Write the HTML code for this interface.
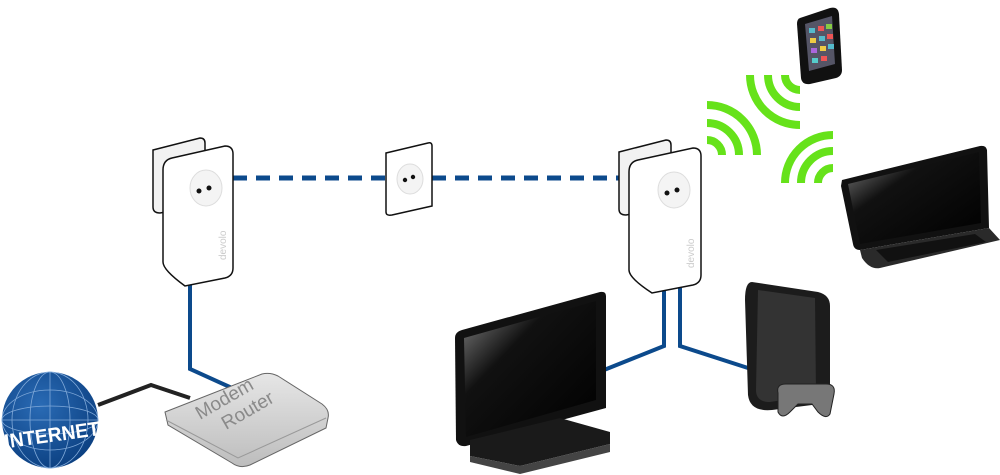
<!DOCTYPE html>
<html><head><meta charset="utf-8"><style>
html,body{margin:0;padding:0;background:#fff;width:1000px;height:475px;overflow:hidden}
</style></head><body>
<svg width="1000" height="475" viewBox="0 0 1000 475" xmlns="http://www.w3.org/2000/svg" font-family="Liberation Sans, sans-serif">
<defs>
<linearGradient id="gl" x1="0" y1="0" x2="1" y2="1"><stop offset="0" stop-color="#888"/><stop offset=".35" stop-color="#111"/><stop offset="1" stop-color="#000"/></linearGradient>
<linearGradient id="rt" x1="0" y1="0" x2="0" y2="1"><stop offset="0" stop-color="#e6e6e6"/><stop offset="1" stop-color="#bdbdbd"/></linearGradient>
<radialGradient id="gb" cx=".4" cy=".35" r=".7"><stop offset="0" stop-color="#2a6bb5"/><stop offset="1" stop-color="#0b3f80"/></radialGradient>
</defs>
<line x1="233" y1="178" x2="392" y2="178" stroke="#0c4a8c" stroke-width="5" stroke-dasharray="14,9"/>
<line x1="432" y1="178" x2="622" y2="178" stroke="#0c4a8c" stroke-width="5" stroke-dasharray="14,9"/>
<polyline points="190,280 190,369 232,388" fill="none" stroke="#0c4a8c" stroke-width="4"/>
<polyline points="664,288 664,346 604,370" fill="none" stroke="#0c4a8c" stroke-width="4"/>
<polyline points="680,288 680,346 748,368" fill="none" stroke="#0c4a8c" stroke-width="4"/>
<polyline points="98,405 151,385 190,398" fill="none" stroke="#222" stroke-width="4"/>
<path d="M153,150 L200,138 Q205,138 205,143 L205,205 L160,213 Q153,213 153,207Z" fill="#f2f2f2" stroke="#111" stroke-width="1.5"/>
<path d="M163,170 Q163,160 172,158 L225,146 Q233,146 233,154 L233,268 Q233,276 225,278 L185,286 Q163,270 163,262Z" fill="#fff" stroke="#111" stroke-width="1.5"/>
<ellipse cx="206" cy="188" rx="16" ry="18" fill="#f4f4f4" stroke="#ddd"/>
<circle cx="199" cy="191" r="2.5" fill="#111"/><circle cx="209" cy="188" r="2.5" fill="#111"/>
<text x="0" y="0" transform="translate(226,260) rotate(-90)" font-size="10" fill="#ccc">devolo</text>
<path d="M386,153 L428,143 Q432,142 432,146 L432,206 L392,215 Q386,216 386,212Z" fill="#fff" stroke="#111" stroke-width="1.5"/>
<ellipse cx="410" cy="179" rx="13" ry="15" fill="#f4f4f4" stroke="#ddd"/>
<circle cx="405" cy="180" r="2.2" fill="#111"/><circle cx="413" cy="177" r="2.2" fill="#111"/>
<path d="M619,152 L666,140 Q671,140 671,145 L671,207 L626,215 Q619,215 619,209Z" fill="#f2f2f2" stroke="#111" stroke-width="1.5"/>
<path d="M629,172 Q629,162 638,160 L693,148 Q701,148 701,156 L701,275 Q701,283 693,285 L652,293 Q629,278 629,270Z" fill="#fff" stroke="#111" stroke-width="1.5"/>
<ellipse cx="674" cy="190" rx="16" ry="18" fill="#f4f4f4" stroke="#ddd"/>
<circle cx="667" cy="193" r="2.5" fill="#111"/><circle cx="677" cy="190" r="2.5" fill="#111"/>
<text x="0" y="0" transform="translate(694,268) rotate(-90)" font-size="10" fill="#ccc">devolo</text>
<circle cx="50" cy="420" r="48" fill="url(#gb)"/>
<g fill="none" stroke="#7fa8d8" stroke-width=".8">
<ellipse cx="50" cy="420" rx="20" ry="48"/><ellipse cx="50" cy="420" rx="38" ry="48"/><line x1="50" y1="372" x2="50" y2="468"/>
<ellipse cx="50" cy="420" rx="48" ry="14"/><ellipse cx="50" cy="420" rx="48" ry="30"/><line x1="2" y1="420" x2="98" y2="420"/>
</g>
<text x="52" y="442" text-anchor="middle" font-size="20" font-weight="bold" fill="#fff" transform="rotate(-8 50 435)" textLength="96" lengthAdjust="spacingAndGlyphs">INTERNET</text>
<path d="M165,412 L262,374 Q270,372 278,376 L322,404 Q330,410 328,418 L326,428 L250,465 Q240,469 232,463 L168,425Z" fill="url(#rt)" stroke="#666" stroke-width="1"/>
<path d="M166,420 L238,458 L326,418" fill="none" stroke="#999"/>
<text x="0" y="0" transform="translate(200,420) rotate(-30)" font-size="19" fill="#8a8a8a">Modem</text>
<text x="0" y="0" transform="translate(226,430) rotate(-30)" font-size="19" fill="#8a8a8a">Router</text>
<path d="M462,330 L600,292 Q606,291 606,296 L606,408 L466,446 Q458,447 456,440 L455,338 Q455,332 462,330Z" fill="#111"/>
<path d="M464,338 L596,301 L596,400 L466,437Z" fill="url(#gl)"/>
<path d="M470,440 L560,418 L610,432 L610,444 L520,466 L470,456Z" fill="#1a1a1a"/>
<path d="M470,456 L520,466 L610,444 L610,452 L520,474 L470,462Z" fill="#444"/>
<path d="M752,282 L818,292 Q830,295 830,306 L830,392 Q830,402 820,404 L772,410 Q750,412 748,395 L745,300 Q745,282 752,282Z" fill="#1c1c1c"/>
<path d="M758,290 L815,298 L816,395 L770,402 Q756,402 756,390Z" fill="#333"/>
<path d="M778,393 Q776,384 786,384 L826,384 Q836,384 834,394 L830,414 Q826,420 818,412 L812,404 L798,404 L790,412 Q782,420 778,412Z" fill="#777" stroke="#222"/>
<path d="M800,18 L830,8 Q838,6 839,14 L842,70 Q842,76 836,78 L810,84 Q802,85 801,78 L797,24 Q797,19 800,18Z" fill="#111"/>
<path d="M805,24 L832,16 L835,64 L809,71Z" fill="#556"/>
<g><rect x="809" y="28" width="6" height="5" fill="#5bc"/><rect x="818" y="26" width="6" height="5" fill="#e55"/><rect x="826" y="24" width="6" height="5" fill="#8c4"/><rect x="810" y="38" width="6" height="5" fill="#ec4"/><rect x="819" y="36" width="6" height="5" fill="#5bc"/><rect x="827" y="34" width="6" height="5" fill="#e55"/><rect x="811" y="48" width="6" height="5" fill="#a6d"/><rect x="820" y="46" width="6" height="5" fill="#ec4"/><rect x="828" y="44" width="6" height="5" fill="#5bc"/><rect x="812" y="58" width="6" height="5" fill="#5cc"/><rect x="821" y="56" width="6" height="5" fill="#e55"/></g>
<g fill="none" stroke="#66e21a" stroke-width="8">
<path d="M722,155 A15,15 0 0 0 707,140"/><path d="M739,155 A32,32 0 0 0 707,123"/><path d="M757,155 A50,50 0 0 0 707,105"/>
<path d="M800,90 A15,15 0 0 1 785,75"/><path d="M800,107 A32,32 0 0 1 768,75"/><path d="M800,125 A50,50 0 0 1 750,75"/>
<path d="M818,183 A15,15 0 0 1 833,168"/><path d="M801,183 A32,32 0 0 1 833,151"/><path d="M785,183 A48,48 0 0 1 833,135"/>
</g>
<path d="M842,180 L980,146 Q986,145 987,150 L989,228 L860,250 Q854,250 853,244 L841,186Z" fill="#111"/>
<path d="M848,184 L979,152 L981,223 L860,244Z" fill="url(#gl)"/>
<path d="M860,250 L989,228 L1000,240 L880,268 Q870,270 862,258Z" fill="#2a2a2a"/>
<path d="M876,250 L975,234 L986,242 L888,262Z" fill="#111"/>
</svg>
</body></html>
